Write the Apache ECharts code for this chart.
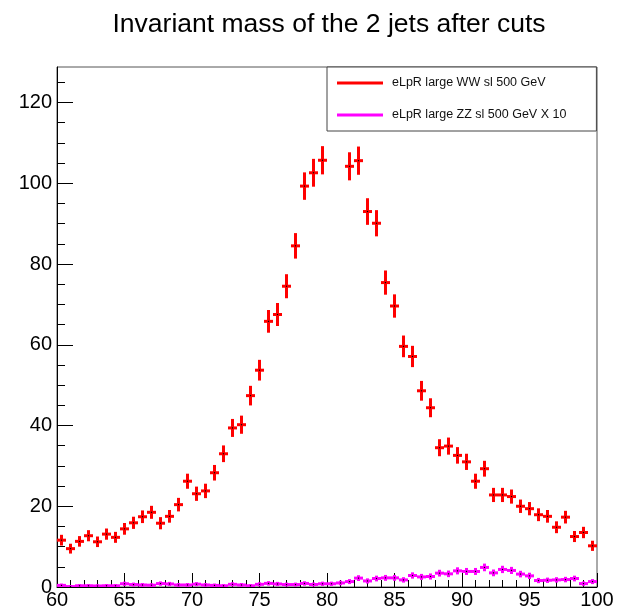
<!DOCTYPE html>
<html>
<head>
<meta charset="utf-8">
<title>Invariant mass of the 2 jets after cuts</title>
<script src="https://cdn.jsdelivr.net/npm/echarts@6/dist/echarts.min.js"></script>
<style>
  html, body { margin: 0; padding: 0; background: #fff; }
  #chart { width: 619px; height: 610px; }
</style>
</head>
<body>
<div id="chart"></div>
<script>
// Histogram binning: 60 bins over 60–100 GeV
const xMin = 60;
const xMax = 100;
const nBins = 60;
const yMax = 128.8;

// Major / minor tick positions
const xMajorTicks = [60, 65, 70, 75, 80, 85, 90, 95, 100];
const yMajorTicks = [0, 20, 40, 60, 80, 100, 120];
const yMinorTicks = [5, 10, 15, 25, 30, 35, 45, 50, 55, 65, 70, 75, 85, 90, 95, 105, 110, 115, 125];

// eLpR large WW sl 500 GeV: bin contents and errors
const wwValues = [
  11.6, 9.5, 11.3, 12.7, 11.2, 13.1, 12.3, 14.4, 15.9, 17.4,
  18.5, 15.8, 17.5, 20.4, 26.2, 23.1, 23.8, 28.3, 33.0, 39.4,
  40.2, 47.4, 53.7, 65.8, 67.5, 74.5, 84.5, 99.3, 102.6, 105.7,
  119.2, 117.5, 104.2, 105.6, 93.0, 90.1, 75.4, 69.6, 59.6, 57.1,
  48.6, 44.4, 34.5, 34.9, 32.6, 31.0, 26.2, 29.3, 22.8, 22.8,
  22.4, 20.0, 19.4, 17.9, 17.5, 14.8, 17.3, 12.5, 13.5, 10.2
];
const wwErrors = [
  1.08, 0.97, 1.06, 1.13, 1.06, 1.14, 1.11, 1.20, 1.26, 1.32,
  1.36, 1.26, 1.32, 1.43, 1.62, 1.52, 1.54, 1.68, 1.82, 1.98,
  2.00, 2.18, 2.32, 2.57, 2.60, 2.73, 2.91, 3.15, 3.20, 3.25,
  3.45, 3.43, 3.23, 3.25, 3.05, 3.00, 2.75, 2.64, 2.44, 2.39,
  2.20, 2.10, 1.86, 1.87, 1.80, 1.76, 1.62, 1.71, 1.51, 1.51,
  1.50, 1.41, 1.39, 1.34, 1.32, 1.22, 1.32, 1.12, 1.16, 1.01
];

// eLpR large ZZ sl 500 GeV, scaled by 10: bin contents and errors
const zzValues = [
  0.40, 0.10, 0.30, 0.30, 0.25, 0.30, 0.30, 0.80, 0.60, 0.50,
  0.45, 0.85, 0.75, 0.50, 0.50, 0.70, 0.50, 0.40, 0.30, 0.66,
  0.50, 0.30, 0.66, 0.90, 0.75, 0.60, 0.60, 0.88, 0.62, 0.80,
  0.80, 1.00, 1.34, 2.20, 1.50, 2.10, 2.26, 2.26, 1.76, 2.85,
  2.50, 2.60, 3.43, 3.26, 4.00, 3.85, 3.85, 4.85, 3.50, 4.35,
  4.10, 3.20, 2.76, 1.60, 1.67, 1.76, 1.84, 2.10, 0.84, 1.34
];
const zzErrors = [
  0.20, 0.10, 0.17, 0.17, 0.16, 0.17, 0.17, 0.28, 0.24, 0.22,
  0.21, 0.29, 0.27, 0.22, 0.22, 0.26, 0.22, 0.20, 0.17, 0.26,
  0.22, 0.17, 0.26, 0.30, 0.27, 0.24, 0.24, 0.30, 0.25, 0.28,
  0.28, 0.32, 0.37, 0.47, 0.39, 0.46, 0.48, 0.48, 0.42, 0.53,
  0.50, 0.51, 0.59, 0.57, 0.63, 0.62, 0.62, 0.70, 0.59, 0.66,
  0.64, 0.57, 0.53, 0.40, 0.41, 0.42, 0.43, 0.46, 0.29, 0.37
];

const seriesNames = ['eLpR large WW sl 500 GeV', 'eLpR large ZZ sl 500 GeV X 10'];
const seriesColors = ['#ff0000', '#ff00ff'];

const binWidth = (xMax - xMin) / nBins;
const binCenters = wwValues.map((_, i) => xMin + (i + 0.5) * binWidth);

function toData(values, errors) {
  return values.map((v, i) => [binCenters[i], v, errors[i]]);
}

// Each bin: horizontal bar across the bin, vertical error bar, small centre marker
function errorBarRenderer(color) {
  return function (params, api) {
    const x = api.value(0);
    const y = api.value(1);
    const e = api.value(2);
    const left = api.coord([x - binWidth / 2, y]);
    const right = api.coord([x + binWidth / 2, y]);
    const top = api.coord([x, y + e]);
    const bottom = api.coord([x, y - e]);
    const c = api.coord([x, y]);
    return {
      type: 'group',
      children: [
        { type: 'line', shape: { x1: left[0], y1: left[1], x2: right[0], y2: right[1] },
          style: { stroke: color, lineWidth: 3 } },
        { type: 'line', shape: { x1: top[0], y1: top[1] - 1, x2: bottom[0], y2: bottom[1] + 1 },
          style: { stroke: color, lineWidth: 3 } },
        { type: 'rect', shape: { x: c[0] - 0.6, y: c[1] - 0.6, width: 1.2, height: 1.2 },
          style: { fill: '#000' } }
      ]
    };
  };
}

const fontFamily = '"Liberation Sans", Arial, Helvetica, sans-serif';
const chart = echarts.init(document.getElementById('chart'), null, { renderer: 'canvas' });

chart.setOption({
  animation: false,
  backgroundColor: '#ffffff',
  title: {
    text: 'Invariant mass of the 2 jets after cuts',
    left: 324,
    textAlign: 'center',
    top: 6,
    textStyle: { fontFamily: fontFamily, fontSize: 26.5, fontWeight: 'normal', color: '#000' }
  },
  grid: {
    left: 57, right: 22, top: 67, bottom: 23,
    show: true, borderColor: '#555', borderWidth: 1, backgroundColor: 'transparent'
  },
  legend: {
    orient: 'vertical',
    left: 327,
    top: 67,
    padding: [8, 30, 8, 10],
    itemGap: 16,
    itemWidth: 46,
    itemHeight: 3,
    icon: 'rect',
    backgroundColor: '#ffffff',
    borderColor: '#444',
    borderWidth: 1,
    borderRadius: 0,
    z: 10,
    data: seriesNames,
    textStyle: { fontFamily: fontFamily, fontSize: 12.5, color: '#111', lineHeight: 16, padding: [0, 0, 0, 4] }
  },
  xAxis: {
    type: 'value',
    min: xMin,
    max: xMax,
    interval: 5,
    axisLine: { show: true, lineStyle: { color: '#000', width: 1 } },
    axisTick: { show: true, inside: true, length: 14, lineStyle: { color: '#000' },
      customValues: xMajorTicks },
    minorTick: { show: true, splitNumber: 5, length: 7, lineStyle: { color: '#000' } },
    splitLine: { show: false },
    axisLabel: { fontFamily: fontFamily, fontSize: 20, color: '#000', margin: 3,
      customValues: xMajorTicks }
  },
  yAxis: [
    {
      type: 'value',
      position: 'left',
      min: 0,
      max: yMax,
      interval: 20,
      axisLine: { show: true, lineStyle: { color: '#000', width: 1 } },
      axisTick: { show: true, inside: true, length: 16, lineStyle: { color: '#000' },
        customValues: yMajorTicks },
      splitLine: { show: false },
      axisLabel: { fontFamily: fontFamily, fontSize: 20, color: '#000', margin: 5,
        customValues: yMajorTicks }
    },
    {
      type: 'value',
      position: 'left',
      offset: 0,
      min: 0,
      max: yMax,
      interval: 5,
      axisLine: { show: false },
      axisTick: { show: true, inside: true, length: 8, lineStyle: { color: '#000' },
        customValues: yMinorTicks },
      splitLine: { show: false },
      axisLabel: { show: false }
    }
  ],
  series: [
    {
      name: seriesNames[0],
      type: 'custom',
      clip: true,
      itemStyle: { color: seriesColors[0] },
      renderItem: errorBarRenderer(seriesColors[0]),
      encode: { x: 0, y: 1 },
      data: toData(wwValues, wwErrors),
      z: 2
    },
    {
      name: seriesNames[1],
      type: 'custom',
      clip: true,
      itemStyle: { color: seriesColors[1] },
      renderItem: errorBarRenderer(seriesColors[1]),
      encode: { x: 0, y: 1 },
      data: toData(zzValues, zzErrors),
      z: 2
    }
  ]
});
</script>
</body>
</html>
